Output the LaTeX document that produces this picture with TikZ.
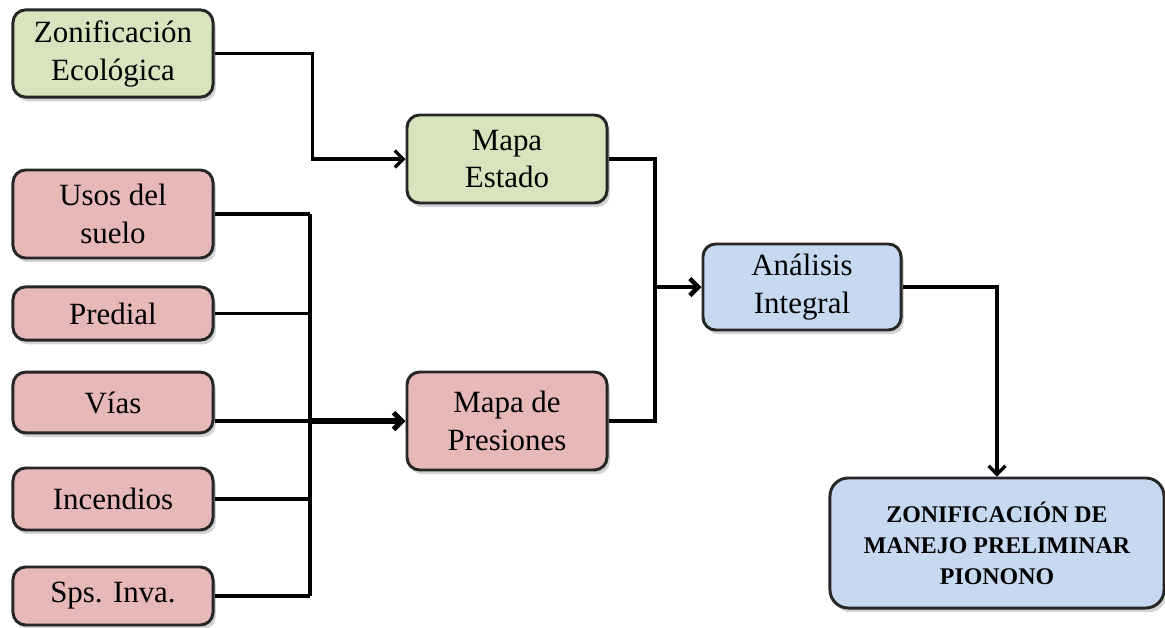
\documentclass[tikz,border=0pt]{standalone}
\usepackage{fontspec}
\setmainfont{Liberation Serif}
\usetikzlibrary{positioning,shadows,arrows.meta}
\definecolor{ecogreen}{RGB}{215,228,189}
\definecolor{presred}{RGB}{230,185,184}
\definecolor{anablue}{RGB}{198,217,241}

\tikzset{
  box/.style={draw=black!85, line width=2.1pt, rounded corners=9pt,
    align=center, minimum width=5cm, inner sep=2pt,
    drop shadow={shadow xshift=2pt, shadow yshift=-3pt, opacity=0.35}},
  greenbox/.style={box, fill=ecogreen},
  redbox/.style={box, fill=presred},
  bluebox/.style={box, fill=anablue}
}

\begin{document}
\begin{tikzpicture}[
    x=0.025cm, y=-0.025cm,
    font=\fontsize{22}{27}\selectfont,
    >={Straight Barb[length=6pt,width=12pt]},
    line width=2.3pt
  ]
  \useasboundingbox (0,0) rectangle (1165,627);

  % inputs
  \node[greenbox, minimum height=2.18cm] (zon) at (113,53.5) {Zonificación\\Ecológica};
  \node[redbox, minimum height=2.2cm] (usos) at (113,214) {Usos del\\suelo};
  \node[redbox, minimum height=1.33cm] (predial) at (113,313.5) {Predial};
  \node[redbox, minimum height=1.52cm] (vias) at (113,402.5) {Vías};
  \node[redbox, minimum height=1.55cm] (incendios) at (113,499) {Incendios};
  \node[redbox, minimum height=1.45cm] (sps) at (113,596) {Sps. Inva.};

  % maps
  \node[greenbox, minimum height=2.2cm] (estado) at (507,159) {Mapa\\Estado};
  \node[redbox, minimum height=2.45cm] (presiones) at (507,421) {Mapa de\\Presiones};
  \node[bluebox, minimum width=4.95cm, minimum height=2.15cm] (analisis) at (802,287) {Análisis\\Integral};
  \node[bluebox, minimum width=8.35cm, minimum height=3.25cm, rounded corners=13pt,
    font=\fontsize{17}{22}\selectfont\bfseries] (final) at (997,543)
    {ZONIFICACIÓN DE\\MANEJO PRELIMINAR\\PIONONO};

  % connectors
  \draw[->] (zon.east) -- ++(98,0) |- (estado.west);
  \coordinate (bus) at (310,0);
  \foreach \n in {usos, predial, incendios, sps}
    \draw (\n.east) -- (\n.east -| bus);
  \draw (usos.east -| bus) -- (sps.east -| bus);
  \draw (vias.east |- presiones.west) -- (bus |- presiones.west);
  \draw[->, line width=3.6pt] (bus |- presiones.west) -- (presiones.west);

  \coordinate (merge) at (655,0);
  \draw (estado.east) -| (merge |- presiones.east) -- (presiones.east);
  \draw[->, line width=3.2pt] (merge |- analisis.west) -- (analisis.west);
  \draw[->] (analisis.east) -| (final.north);
\end{tikzpicture}
\end{document}
